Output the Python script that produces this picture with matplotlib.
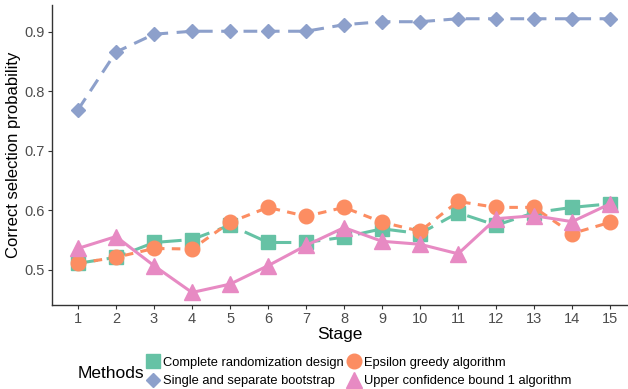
import numpy as np
import matplotlib
matplotlib.use("Agg")
import matplotlib.pyplot as plt
from matplotlib.lines import Line2D

plt.rcParams["font.family"] = ["Liberation Sans", "DejaVu Sans"]

stages = list(range(1, 16))

# valores
complete_rand = [0.511, 0.521, 0.546, 0.551, 0.575, 0.546, 0.546, 0.555,
                 0.569, 0.561, 0.596, 0.575, 0.596, 0.605, 0.611]
epsilon_greedy = [0.511, 0.521, 0.536, 0.535, 0.580, 0.605, 0.590, 0.605,
                  0.580, 0.565, 0.615, 0.605, 0.605, 0.561, 0.580]
bootstrap = [0.769, 0.866, 0.896, 0.901, 0.901, 0.901, 0.901, 0.912,
             0.917, 0.917, 0.922, 0.922, 0.922, 0.922, 0.922]
ucb = [0.536, 0.556, 0.507, 0.462, 0.476, 0.507, 0.541, 0.571,
       0.548, 0.543, 0.527, 0.586, 0.591, 0.581, 0.611]

labels = ["Complete randomization design", "Epsilon greedy algorithm",
          "Single and separate bootstrap", "Upper confidence bound 1 algorithm"]

cores = {"green": "#66C2A5", "orange": "#FC8D62", "blue": "#8DA0CB", "pink": "#E78AC3"}

fig = plt.figure(figsize=(6.28, 3.89), dpi=100)
ax = fig.add_axes([0.083, 0.216, 0.917, 0.771])

lw = 2.2
ax.plot(stages, bootstrap, color=cores["blue"], lw=lw, dashes=(4.5, 2.8),
        marker="D", ms=7, zorder=3)
ax.plot(stages, complete_rand, color=cores["green"], lw=lw, dashes=(6.5, 3),
        marker="s", ms=9.5, zorder=3)
ax.plot(stages, epsilon_greedy, color=cores["orange"], lw=lw, dashes=(2.8, 2.4),
        marker="o", ms=10.5, zorder=4)
ax.plot(stages, ucb, color=cores["pink"], lw=lw, marker="^", ms=11, zorder=5)

ax.set_xlim(0.32, 15.47)
ax.set_ylim(0.441, 0.945)
ax.set_xticks(stages)
ax.set_yticks([0.5, 0.6, 0.7, 0.8, 0.9])
ax.set_yticklabels(["0.5", "0.6", "0.7", "0.8", "0.9"])

for s in ["top", "right"]:
    ax.spines[s].set_visible(False)
for s in ["left", "bottom"]:
    ax.spines[s].set_color("#333333")
    ax.spines[s].set_linewidth(1.0)
ax.tick_params(colors="#333333", labelcolor="#4D4D4D", labelsize=10.5,
               length=3, width=0.8, pad=2)

ax.set_xlabel("Stage", fontsize=12.5, labelpad=1)
ax.set_ylabel("Correct selection probability", fontsize=12, labelpad=3)

# legenda na parte de baixo, preenchida por linha
handles = [
    Line2D([], [], color=cores["green"], marker="s", ls="none", ms=9.5),
    Line2D([], [], color=cores["blue"], marker="D", ls="none", ms=7),
    Line2D([], [], color=cores["orange"], marker="o", ls="none", ms=10.5),
    Line2D([], [], color=cores["pink"], marker="^", ls="none", ms=11),
]
leg_labels = [labels[0], labels[2], labels[1], labels[3]]
fig.legend(handles, leg_labels, ncol=2, loc="center left",
           bbox_to_anchor=(0.225, 0.044), frameon=False, fontsize=9.3,
           handlelength=0.8, handletextpad=0.4, columnspacing=0.35,
           labelspacing=0.5, borderpad=0)
fig.text(0.123, 0.041, "Methods", fontsize=12.5, va="center", ha="left")

fig.savefig("out.png", dpi=100)
